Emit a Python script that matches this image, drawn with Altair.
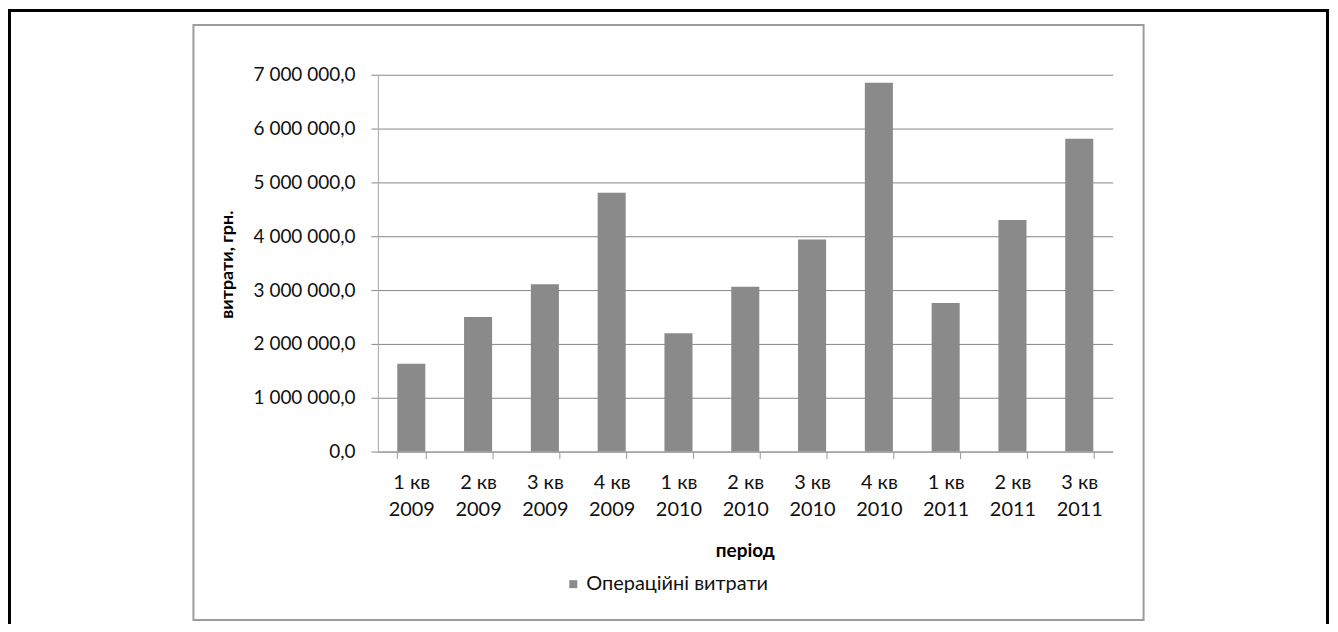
import altair as alt
import pandas as pd

# ---- data ----
periods = ["1 кв 2009", "2 кв 2009", "3 кв 2009", "4 кв 2009",
           "1 кв 2010", "2 кв 2010", "3 кв 2010", "4 кв 2010",
           "1 кв 2011", "2 кв 2011", "3 кв 2011"]
costs = [1630000, 2500000, 3110000, 4810000,
         2200000, 3060000, 3940000, 6850000,
         2760000, 4300000, 5810000]
series_name = "Операційні витрати"
y_ticks = [0, 1000000, 2000000, 3000000, 4000000, 5000000, 6000000, 7000000]

df = pd.DataFrame({"period": periods, "cost": costs,
                   "series": [series_name] * len(periods)})

# ---- layout / style ----
W, H = 737, 378
YMAX = 7000000
FONT = "Lato"
BAR_FRAC = 0.42
BAR_GRAY = "#8a8a8a"

x_enc = alt.X(
    "period:N", sort=periods, title="період",
    scale=alt.Scale(paddingInner=1 - BAR_FRAC, paddingOuter=(1 - BAR_FRAC) / 2),
    axis=alt.Axis(
        labelAngle=0, tickBand="extent", tickSize=7, tickColor="#9a9a9a",
        domainColor="#9a9a9a", grid=False, labelFont=FONT, labelFontSize=20,
        labelColor="#111111", labelPadding=14, labelLineHeight=27,
        labelExpr="isString(datum.value) ? [slice(datum.value, 0, 4), slice(datum.value, 5)] : ''",
        titleFont=FONT, titleFontSize=19, titleFontWeight="bold", titleColor="#000000",
        titleX=368, titleY=105, titleAlign="center", titleBaseline="alphabetic",
    ),
)
y_enc = alt.Y(
    "cost:Q", title="витрати, грн.",
    scale=alt.Scale(domain=[0, YMAX], nice=False),
    axis=alt.Axis(
        values=y_ticks, tickSize=7, tickColor="#8a8a8a", domainColor="#a8a8a8",
        gridColor="#868686", gridWidth=1, labelFont=FONT, labelFontSize=19,
        labelColor="#111111", labelPadding=16,
        labelExpr="replace(replace(format(datum.value, ',.1f'), regexp(',', 'g'), ' '), '.', ',')",
        titleFont=FONT, titleFontSize=18, titleFontWeight="bold", titleColor="#000000",
        titleX=-146, titleY=190, titleAngle=270, titleAlign="center",
        titleBaseline="alphabetic",
    ),
)

bars = alt.Chart(df).mark_bar().encode(
    x=x_enc, y=y_enc,
    color=alt.Color(
        "series:N", scale=alt.Scale(range=[BAR_GRAY]),
        legend=alt.Legend(
            title=None, orient="none", legendX=186, legendY=501,
            symbolType="square", symbolSize=64, labelLimit=500,
            labelFont=FONT, labelFontSize=20, labelColor="#111111", labelOffset=3,
        ),
    ),
)

one = pd.DataFrame({"k": [0]})
inner_box = alt.Chart(one).mark_rect(
    fillOpacity=0, stroke="#9c9c9c", strokeWidth=2
).encode(x=alt.value(-185), x2=alt.value(768), y=alt.value(-50), y2=alt.value(547))
outer_box = alt.Chart(one).mark_rect(
    fillOpacity=0, stroke="#000000", strokeWidth=3
).encode(x=alt.value(-369.5), x2=alt.value(952.5), y=alt.value(-64.5), y2=alt.value(800))

chart = alt.layer(outer_box, inner_box, bars).properties(
    width=W, height=H,
    autosize=alt.AutoSizeParams(type="none"),
    padding={"left": 371, "top": 66, "right": 218, "bottom": 172},
    background="#ffffff",
).configure_view(strokeWidth=0)

chart.save("out.html", embed_options={"renderer": "svg", "actions": False})
